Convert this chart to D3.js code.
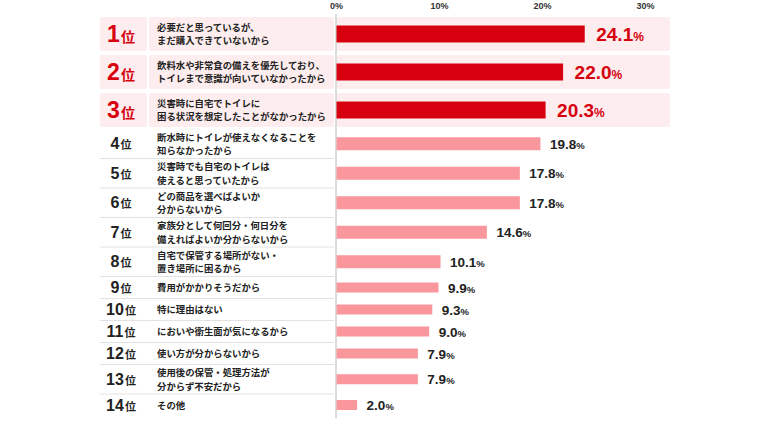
<!DOCTYPE html>
<html>
<head>
<meta charset="utf-8">
<script src="https://cdn.jsdelivr.net/npm/d3@7"></script>
<style>
  html, body { margin: 0; padding: 0; background: #fff; }
  svg { display: block; }
</style>
</head>
<body>
<svg id="chart" width="770" height="433"></svg>
<script>
// ---- data ----
const ranks = [1, 2, 3, 4, 5, 6, 7, 8, 9, 10, 11, 12, 13, 14];
const labels = [
  ["必要だと思っているが、", "まだ購入できていないから"],
  ["飲料水や非常食の備えを優先しており、", "トイレまで意識が向いていなかったから"],
  ["災害時に自宅でトイレに", "困る状況を想定したことがなかったから"],
  ["断水時にトイレが使えなくなることを", "知らなかったから"],
  ["災害時でも自宅のトイレは", "使えると思っていたから"],
  ["どの商品を選べばよいか", "分からないから"],
  ["家族分として何回分・何日分を", "備えればよいか分からないから"],
  ["自宅で保管する場所がない・", "置き場所に困るから"],
  ["費用がかかりそうだから"],
  ["特に理由はない"],
  ["においや衛生面が気になるから"],
  ["使い方が分からないから"],
  ["使用後の保管・処理方法が", "分からず不安だから"],
  ["その他"]
];
const values = [24.1, 22.0, 20.3, 19.8, 17.8, 17.8, 14.6, 10.1, 9.9, 9.3, 9.0, 7.9, 7.9, 2.0];
const tickValues = [0, 10, 20, 30];
const tickLabels = ["0%", "10%", "20%", "30%"];

// ---- layout ----
const RED = "#d7000f", PINK = "#f9979c", BAND = "#fdedee";
const JP = "'Noto Sans CJK JP', 'Noto Sans', sans-serif";
const NUM = "'Liberation Sans', Arial, sans-serif";
const svg = d3.select("#chart");

const x = d3.scaleLinear().domain([0, 30]).range([336, 645]);

// variable row heights depending on rank group / number of lines
const rows = [];
let yCur = 15;
ranks.forEach((r, i) => {
  const h = i < 3 ? 38 : (labels[i].length > 1 ? 29.5 : 22);
  rows.push({ rank: r, lines: labels[i], value: values[i], y0: yCur, h, top: i < 3, i });
  yCur += h;
});
const yEnd = yCur;

// top 3 pink bands
const topRows = rows.filter(d => d.top);
const segs = [[100, 147], [149, 334], [337, 670]];
topRows.forEach(d => {
  segs.forEach(s => {
    svg.append("rect")
      .attr("x", s[0]).attr("y", d.y0 + 2)
      .attr("width", s[1] - s[0]).attr("height", d.h - 4)
      .attr("rx", 2).attr("fill", BAND);
  });
});

// separators for lower rows
rows.filter(d => !d.top && d.i < rows.length - 1).forEach(d => {
  svg.append("line")
    .attr("x1", 100).attr("x2", 334)
    .attr("y1", d.y0 + d.h).attr("y2", d.y0 + d.h)
    .attr("stroke", "#e2e2e2").attr("stroke-width", 1);
});

// axis ticks on top
const axis = d3.axisTop(x).tickValues(tickValues).tickSize(0).tickFormat((d, i) => tickLabels[i]);
const gAxis = svg.append("g").attr("transform", "translate(0,13)").call(axis);
gAxis.select(".domain").remove();
gAxis.selectAll("text")
  .attr("font-family", NUM).attr("font-size", 9).attr("font-weight", "bold")
  .attr("fill", "#333").attr("dy", "-0.1em");

// vertical zero line
svg.append("line")
  .attr("x1", x(0)).attr("x2", x(0))
  .attr("y1", 14).attr("y2", yEnd + 2)
  .attr("stroke", "#b8b8b8").attr("stroke-width", 1);

// bars
const barH = d => d.top ? 17 : (d.i < 8 ? 13 : 10);
svg.append("g").selectAll("rect").data(rows).join("rect")
  .attr("x", x(0) + 0.5)
  .attr("y", d => d.y0 + d.h / 2 - barH(d) / 2)
  .attr("width", d => x(d.value) - x(0))
  .attr("height", d => barH(d))
  .attr("fill", d => d.top ? RED : PINK);

// rank labels
const rankG = svg.append("g").selectAll("text").data(rows).join("text")
  .attr("x", 121)
  .attr("y", d => d.y0 + d.h / 2 + (d.top ? 8 : 5.5))
  .attr("text-anchor", "middle")
  .attr("fill", d => d.top ? RED : "#222")
  .attr("font-weight", "bold");
rankG.append("tspan")
  .attr("font-family", NUM)
  .attr("font-size", d => d.top ? 23 : 16)
  .text(d => d.rank);
rankG.append("tspan")
  .attr("font-family", JP)
  .attr("font-size", d => d.top ? 14 : 11)
  .attr("dx", 1)
  .text("位");

// category labels (one text element per line)
const labelLines = [];
rows.forEach(d => {
  const n = d.lines.length;
  const lh = 13.5;
  const first = d.y0 + d.h / 2 - (n - 1) * lh / 2 + 3.5;
  d.lines.forEach((ln, k) => labelLines.push({ text: ln, y: first + k * lh }));
});
svg.append("g").selectAll("text").data(labelLines).join("text")
  .attr("x", 157).attr("y", d => d.y)
  .attr("font-family", JP).attr("font-size", 9.4).attr("font-weight", "bold")
  .attr("fill", "#222")
  .text(d => d.text);

// value labels
const valG = svg.append("g").selectAll("text").data(rows).join("text")
  .attr("x", d => x(d.value) + (d.top ? 12 : 10))
  .attr("y", d => d.y0 + d.h / 2 + (d.top ? 7 : 5))
  .attr("fill", d => d.top ? RED : "#222")
  .attr("font-family", NUM).attr("font-weight", "bold");
valG.append("tspan")
  .attr("font-size", d => d.top ? 19 : 13.5)
  .text(d => d.value.toFixed(1));
valG.append("tspan")
  .attr("font-size", d => d.top ? 12 : 9.5)
  .text("%");
</script>
</body>
</html>
